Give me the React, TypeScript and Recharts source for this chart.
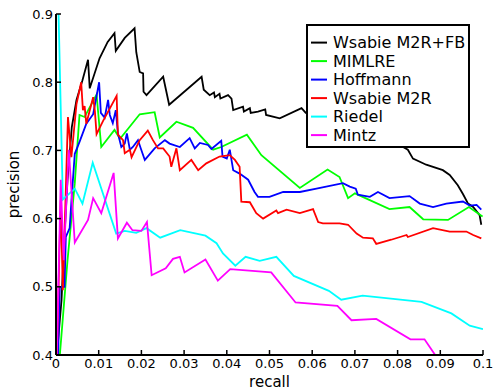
import React from 'react';
import { LineChart, Line, XAxis, YAxis, Legend } from 'recharts';

const FONT = '"DejaVu Sans", sans-serif';

const xTicks = [0, 0.01, 0.02, 0.03, 0.04, 0.05, 0.06, 0.07, 0.08, 0.09, 0.1];
const xTickLabels = ['0', '0.01', '0.02', '0.03', '0.04', '0.05', '0.06', '0.07', '0.08', '0.09', '0.1'];
const yTicks = [0.4, 0.5, 0.6, 0.7, 0.8, 0.9];
const yTickLabels = ['0.4', '0.5', '0.6', '0.7', '0.8', '0.9'];

const seriesNames = ['Wsabie M2R+FB', 'MIMLRE', 'Hoffmann', 'Wsabie M2R', 'Riedel', 'Mintz'];
const seriesColors = ['#000000', '#00ff00', '#0000ff', '#ff0000', '#00ffff', '#ff00ff'];

// [recall, precision]
const wsabieFB: [number, number][] = [
  [0.0002, 0.4], [0.0013, 0.481], [0.002, 0.576], [0.0027, 0.657], [0.0037, 0.734], [0.0048, 0.774],
  [0.0062, 0.803], [0.0075, 0.833], [0.0079, 0.791], [0.0102, 0.835], [0.0121, 0.859], [0.0137, 0.872],
  [0.014, 0.846], [0.0161, 0.865], [0.0184, 0.879], [0.0188, 0.844], [0.0196, 0.815], [0.0204, 0.813],
  [0.0205, 0.786], [0.0212, 0.781], [0.0251, 0.808], [0.0265, 0.767], [0.0341, 0.808], [0.0346, 0.789],
  [0.036, 0.781], [0.037, 0.785], [0.0372, 0.778], [0.0383, 0.783], [0.0385, 0.776], [0.0403, 0.781],
  [0.0411, 0.776], [0.0415, 0.759], [0.0438, 0.764], [0.044, 0.757], [0.0454, 0.762], [0.0456, 0.755],
  [0.0473, 0.757], [0.049, 0.76], [0.0492, 0.752], [0.0524, 0.747], [0.0575, 0.762], [0.0585, 0.755],
  [0.0641, 0.748], [0.0711, 0.733], [0.0782, 0.716], [0.0824, 0.701], [0.0836, 0.688], [0.0867, 0.679],
  [0.0906, 0.671], [0.0922, 0.664], [0.0941, 0.649], [0.0953, 0.636], [0.0965, 0.622], [0.0977, 0.617],
  [0.0992, 0.605], [0.0996, 0.591],
];

const mimlre: [number, number][] = [
  [0.0009, 0.4], [0.0027, 0.539], [0.0044, 0.652], [0.0055, 0.752], [0.0067, 0.749], [0.0095, 0.782],
  [0.0106, 0.705], [0.0137, 0.73], [0.015, 0.717], [0.0196, 0.753], [0.0231, 0.756], [0.0243, 0.719],
  [0.0282, 0.742], [0.0321, 0.733], [0.0368, 0.701], [0.0387, 0.705], [0.0447, 0.723], [0.0481, 0.693],
  [0.0571, 0.645], [0.0636, 0.672], [0.0664, 0.661], [0.0684, 0.63], [0.07, 0.637], [0.0781, 0.614],
  [0.0828, 0.617], [0.086, 0.599], [0.0918, 0.598], [0.0967, 0.617], [0.0999, 0.603],
];

const hoffmann: [number, number][] = [
  [0.0005, 0.4], [0.0009, 0.5], [0.002, 0.5], [0.0023, 0.573], [0.0032, 0.586], [0.0037, 0.634],
  [0.0044, 0.695], [0.0056, 0.714], [0.0071, 0.739], [0.0087, 0.753], [0.0101, 0.8], [0.0105, 0.755],
  [0.0114, 0.748], [0.0122, 0.774], [0.0126, 0.752], [0.0133, 0.74], [0.014, 0.759], [0.0145, 0.725],
  [0.0153, 0.705], [0.0161, 0.71], [0.0166, 0.725], [0.0173, 0.701], [0.018, 0.705], [0.0192, 0.715],
  [0.0198, 0.704], [0.0208, 0.686], [0.0231, 0.703], [0.0255, 0.715], [0.0266, 0.71], [0.029, 0.705],
  [0.0313, 0.718], [0.0325, 0.703], [0.0337, 0.711], [0.0356, 0.708], [0.0364, 0.702], [0.0387, 0.714],
  [0.039, 0.691], [0.04, 0.688], [0.0407, 0.701], [0.0415, 0.671], [0.043, 0.666], [0.045, 0.657],
  [0.0465, 0.639], [0.0473, 0.632], [0.05, 0.632], [0.0532, 0.639], [0.0571, 0.639], [0.061, 0.644],
  [0.0672, 0.652], [0.0688, 0.647], [0.0702, 0.644], [0.0707, 0.635], [0.0735, 0.632], [0.0754, 0.639],
  [0.0781, 0.63], [0.0828, 0.633], [0.0852, 0.622], [0.0883, 0.617], [0.0914, 0.622], [0.0953, 0.625],
  [0.0969, 0.619], [0.0985, 0.62], [0.0996, 0.613],
];

const wsabieM2R: [number, number][] = [
  [0.0002, 0.4], [0.0011, 0.627], [0.0016, 0.495], [0.0028, 0.749], [0.0036, 0.69], [0.0048, 0.768],
  [0.0059, 0.8], [0.0063, 0.759], [0.0067, 0.765], [0.0071, 0.739], [0.0087, 0.778], [0.0091, 0.758],
  [0.0095, 0.724], [0.011, 0.743], [0.0142, 0.78], [0.0145, 0.723], [0.0157, 0.715], [0.0161, 0.696],
  [0.0173, 0.701], [0.0177, 0.69], [0.0196, 0.715], [0.0215, 0.729], [0.0227, 0.715], [0.0239, 0.703],
  [0.0251, 0.703], [0.0266, 0.691], [0.027, 0.676], [0.0282, 0.703], [0.029, 0.671], [0.0317, 0.686],
  [0.0333, 0.671], [0.0352, 0.681], [0.0383, 0.691], [0.0407, 0.693], [0.0419, 0.686], [0.043, 0.676],
  [0.0434, 0.625], [0.0454, 0.624], [0.0469, 0.608], [0.0485, 0.6], [0.0516, 0.612], [0.052, 0.608],
  [0.054, 0.613], [0.0571, 0.608], [0.0602, 0.614], [0.0614, 0.595], [0.0625, 0.593], [0.0664, 0.593],
  [0.0684, 0.591], [0.0704, 0.578], [0.0719, 0.572], [0.0742, 0.571], [0.075, 0.563], [0.0785, 0.569],
  [0.0821, 0.576], [0.0824, 0.573], [0.0883, 0.586], [0.0922, 0.581], [0.0961, 0.581], [0.0977, 0.576],
  [0.0996, 0.571],
];

const riedel: [number, number][] = [
  [0.0006, 0.9], [0.0016, 0.628], [0.0044, 0.644], [0.0062, 0.622], [0.0086, 0.682], [0.0141, 0.578],
  [0.0161, 0.582], [0.0188, 0.579], [0.0212, 0.586], [0.0244, 0.572], [0.0291, 0.583], [0.035, 0.575],
  [0.0376, 0.564], [0.0391, 0.549], [0.042, 0.531], [0.0444, 0.544], [0.0477, 0.538], [0.0516, 0.544],
  [0.0557, 0.516], [0.0639, 0.494], [0.0668, 0.481], [0.0718, 0.487], [0.0856, 0.478], [0.0926, 0.461],
  [0.0969, 0.443], [0.1, 0.438],
];

const mintz: [number, number][] = [
  [0.0002, 0.4], [0.0011, 0.657], [0.0018, 0.539], [0.003, 0.701], [0.0044, 0.565], [0.0075, 0.598],
  [0.0087, 0.63], [0.0106, 0.608], [0.0135, 0.667], [0.0145, 0.571], [0.0166, 0.594], [0.0179, 0.583],
  [0.02, 0.582], [0.0213, 0.595], [0.0224, 0.517], [0.0257, 0.527], [0.0274, 0.541], [0.029, 0.544],
  [0.0301, 0.521], [0.035, 0.54], [0.0379, 0.509], [0.0408, 0.526], [0.0504, 0.521], [0.0561, 0.477],
  [0.0659, 0.472], [0.0692, 0.451], [0.075, 0.453], [0.083, 0.423], [0.0863, 0.423], [0.0888, 0.4],
];

const seriesData = [wsabieFB, mimlre, hoffmann, wsabieM2R, riedel, mintz];
const toPoints = (arr: [number, number][]) => arr.map(([x, y]) => ({ x, y }));

const findLabel = (ticks: number[], labels: string[], v: number) => {
  const i = ticks.findIndex((t) => Math.abs(t - v) < 1e-9);
  return i >= 0 ? labels[i] : String(v);
};

const XTick = (props: any) => {
  const { x, y, payload } = props;
  return (
    <g>
      <line x1={x} y1={y} x2={x} y2={y - 5} stroke="#000" strokeWidth={1.5} />
      <text x={x} y={y + 13} textAnchor="middle" fontSize={13} fontFamily={FONT} fill="#000">
        {findLabel(xTicks, xTickLabels, payload.value)}
      </text>
    </g>
  );
};

const YTick = (props: any) => {
  const { x, y, payload } = props;
  return (
    <g>
      <line x1={x} y1={y} x2={x + 5} y2={y} stroke="#000" strokeWidth={1.5} />
      <text x={x - 3} y={y} dy="0.36em" textAnchor="end" fontSize={13} fontFamily={FONT} fill="#000">
        {findLabel(yTicks, yTickLabels, payload.value)}
      </text>
    </g>
  );
};

const LegendBox = () => (
  <svg width={164} height={124} style={{ display: 'block' }}>
    <rect x={1} y={1} width={162} height={122} fill="#fff" stroke="#000" strokeWidth={2} />
    {seriesNames.map((name, i) => (
      <g key={name}>
        <line x1={5} x2={21} y1={18.6 + i * 18.5} y2={18.6 + i * 18.5} stroke={seriesColors[i]} strokeWidth={2} />
        <text x={27} y={24.3 + i * 18.5} fontSize={16} fontFamily={FONT} fill="#000">
          {name}
        </text>
      </g>
    ))}
  </svg>
);

export default function App() {
  const axisLine = { stroke: '#000', strokeWidth: 2 };
  return (
    <div style={{ position: 'absolute', left: 0, top: 0, width: 493, height: 391, overflow: 'hidden', background: '#fff' }}>
      <LineChart width={493} height={391} margin={{ top: 14, right: 10, bottom: 0, left: 0 }}>
        <XAxis
          type="number"
          dataKey="x"
          domain={[0, 0.1]}
          ticks={xTicks}
          interval={0}
          allowDataOverflow
          height={36}
          tickSize={0}
          tickMargin={0}
          tickLine={false}
          axisLine={axisLine}
          tick={XTick}
          label={{ value: 'recall', position: 'insideBottom', offset: 4, fontSize: 15, fontFamily: FONT, fill: '#000' }}
        />
        <XAxis
          xAxisId="top"
          orientation="top"
          type="number"
          domain={[0, 0.1]}
          height={0}
          tick={false}
          tickLine={false}
          axisLine={axisLine}
        />
        <YAxis
          type="number"
          domain={[0.4, 0.9]}
          ticks={yTicks}
          interval={0}
          allowDataOverflow
          width={56}
          tickSize={0}
          tickMargin={0}
          tickLine={false}
          axisLine={axisLine}
          tick={YTick}
          label={{
            value: 'precision',
            angle: -90,
            position: 'insideLeft',
            offset: 14,
            fontSize: 15,
            fontFamily: FONT,
            fill: '#000',
            style: { textAnchor: 'middle' },
          }}
        />
        <YAxis
          yAxisId="right"
          orientation="right"
          type="number"
          domain={[0.4, 0.9]}
          width={0}
          tick={false}
          tickLine={false}
          axisLine={axisLine}
        />
        {seriesData.map((d, i) => (
          <Line
            key={seriesNames[i]}
            name={seriesNames[i]}
            data={toPoints(d)}
            dataKey="y"
            type="linear"
            stroke={seriesColors[i]}
            strokeWidth={1.8}
            dot={false}
            activeDot={false}
            isAnimationActive={false}
          />
        ))}
        <Legend
          layout="vertical"
          align="center"
          verticalAlign="middle"
          wrapperStyle={{ left: 306, top: 24, width: 164, height: 124, right: 'auto', bottom: 'auto' }}
          content={() => <LegendBox />}
        />
      </LineChart>
    </div>
  );
}
